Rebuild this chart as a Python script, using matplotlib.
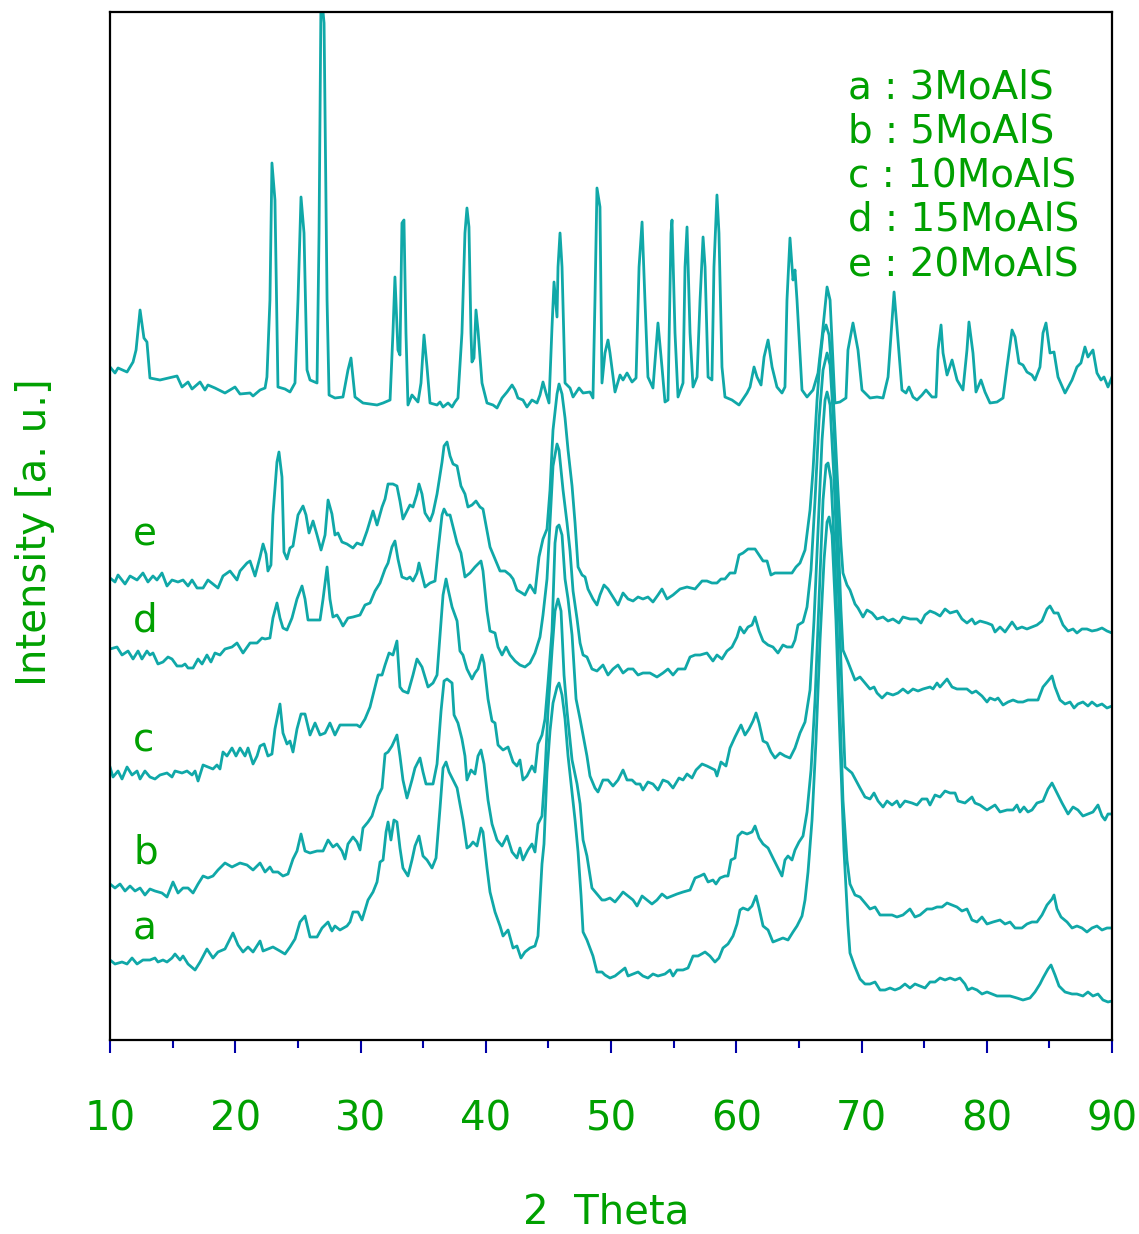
import matplotlib
matplotlib.use("Agg")
import matplotlib.pyplot as plt
from matplotlib.ticker import MultipleLocator

# XRD patterns, 2-theta (deg) vs intensity (a.u., stacked)
ref_tt = [10.00, 10.40, 10.64, 11.36, 11.84, 12.08, 12.40, 12.71, 12.95, 13.19,
          13.99, 15.35, 15.75, 16.23, 16.55, 17.19, 17.58, 17.82, 18.38, 19.18,
          19.98, 20.38, 21.18, 21.42, 21.98, 22.38, 22.53, 22.77, 22.93, 23.17,
          23.41, 23.97, 24.37, 24.77, 25.01, 25.25, 25.49, 25.73, 25.97, 26.53,
          26.69, 26.85, 27.09, 27.33, 27.49, 27.96, 28.60, 29.00, 29.24, 29.56,
          30.20, 31.32, 31.80, 32.36, 32.59, 32.75, 32.99, 33.15, 33.31, 33.47,
          33.63, 33.79, 34.11, 34.59, 34.83, 35.07, 35.31, 35.55, 36.11, 36.35,
          36.59, 36.99, 37.31, 37.54, 37.78, 38.10, 38.34, 38.50, 38.66, 38.82,
          38.90, 39.06, 39.22, 39.38, 39.70, 40.10, 40.58, 40.90, 41.30, 41.70,
          42.10, 42.34, 42.57, 42.97, 43.29, 43.69, 44.09, 44.33, 44.57, 44.81,
          45.05, 45.29, 45.45, 45.69, 45.77, 45.93, 46.09, 46.33, 46.73, 46.97,
          47.45, 47.77, 48.32, 48.56, 48.72, 48.88, 49.12, 49.28, 49.52, 49.76,
          49.92, 50.32, 50.72, 50.96, 51.28, 51.68, 52.00, 52.24, 52.48, 52.71,
          52.95, 53.35, 53.75, 54.07, 54.31, 54.55, 54.79, 54.87, 55.11, 55.35,
          55.75, 55.91, 56.07, 56.31, 56.55, 56.87, 57.11, 57.35, 57.51, 57.75,
          58.06, 58.22, 58.46, 58.62, 58.86, 59.10, 59.66, 60.22, 60.86, 61.10,
          61.42, 61.66, 61.98, 62.22, 62.54, 62.86, 63.25, 63.65, 63.89, 64.05,
          64.29, 64.53, 64.69, 64.85, 65.25, 65.65, 66.13, 66.53, 66.85, 67.25,
          67.49, 67.88, 68.28, 68.76, 68.92, 69.32, 69.72, 70.04, 70.68, 71.24,
          71.72, 72.12, 72.44, 72.60, 72.83, 73.23, 73.55, 73.79, 74.11, 74.43,
          74.83, 75.15, 75.63, 75.95, 76.11, 76.35, 76.51, 76.83, 77.23, 77.63,
          78.10, 78.42, 78.58, 78.90, 79.14, 79.54, 79.86, 80.26, 80.82, 81.30,
          81.62, 82.02, 82.26, 82.57, 82.89, 83.21, 83.61, 83.85, 84.25, 84.49,
          84.73, 85.05, 85.37, 85.69, 86.25, 86.81, 87.20, 87.52, 87.84, 88.08,
          88.48, 88.80, 89.12, 89.36, 89.68, 90.00]
ref_int = [673, 667, 672, 668, 678, 690, 730, 702, 698, 662,
           660, 664, 653, 658, 651, 658, 650, 655, 652, 647,
           653, 646, 647, 644, 650, 652, 663, 740, 877, 840,
           653, 651, 648, 657, 740, 843, 807, 670, 660, 657,
           807, 1050, 1017, 740, 645, 642, 643, 670, 682, 643,
           637, 635, 637, 640, 707, 763, 690, 685, 817, 820,
           707, 635, 645, 638, 657, 705, 673, 637, 635, 638,
           633, 637, 633, 638, 642, 707, 807, 832, 813, 707,
           678, 682, 730, 710, 657, 637, 635, 632, 642, 648,
           655, 650, 642, 640, 633, 640, 637, 645, 658, 647,
           637, 713, 758, 723, 773, 807, 773, 657, 652, 643,
           652, 647, 648, 642, 740, 852, 833, 657, 687, 700,
           687, 648, 665, 660, 667, 658, 662, 773, 818, 740,
           663, 652, 717, 673, 638, 640, 807, 820, 707, 643,
           657, 773, 813, 707, 653, 663, 740, 803, 773, 663,
           660, 773, 845, 807, 673, 643, 640, 635, 647, 653,
           673, 663, 655, 683, 700, 673, 653, 647, 653, 740,
           802, 760, 770, 740, 650, 643, 650, 667, 703, 753,
           740, 637, 638, 642, 690, 717, 690, 650, 642, 643,
           642, 663, 720, 748, 713, 650, 647, 653, 643, 640,
           645, 650, 643, 643, 690, 715, 687, 665, 680, 660,
           650, 690, 718, 687, 648, 660, 648, 637, 638, 642,
           673, 710, 703, 677, 675, 668, 665, 660, 673, 707,
           717, 687, 688, 663, 647, 660, 673, 677, 693, 683,
           690, 667, 660, 663, 653, 663]

e_tt = [10.00, 10.40, 10.64, 11.20, 11.60, 12.16, 12.63, 13.03, 13.43, 13.75,
        14.15, 14.55, 14.95, 15.43, 15.83, 16.23, 16.55, 16.95, 17.43, 17.82,
        18.22, 18.62, 19.02, 19.58, 20.14, 20.38, 20.94, 21.18, 21.58, 21.98,
        22.22, 22.46, 22.61, 22.85, 23.01, 23.33, 23.49, 23.73, 23.89, 24.13,
        24.37, 24.61, 25.01, 25.41, 25.65, 25.89, 26.21, 26.53, 26.85, 27.17,
        27.41, 27.72, 27.96, 28.20, 28.52, 28.92, 29.40, 29.72, 30.12, 30.52,
        31.00, 31.32, 31.72, 31.96, 32.20, 32.59, 32.91, 33.15, 33.39, 33.71,
        33.95, 34.19, 34.51, 34.67, 34.91, 35.15, 35.55, 35.79, 36.11, 36.51,
        36.67, 36.91, 37.15, 37.39, 37.71, 38.02, 38.34, 38.58, 38.90, 39.22,
        39.54, 39.78, 40.10, 40.34, 40.74, 41.14, 41.54, 41.94, 42.18, 42.49,
        42.89, 43.13, 43.53, 43.93, 44.25, 44.57, 44.89, 45.13, 45.37, 45.69,
        45.85, 46.09, 46.33, 46.57, 46.89, 47.13, 47.37, 47.69, 47.93, 48.16,
        48.56, 48.88, 49.12, 49.44, 49.76, 50.16, 50.56, 50.96, 51.36, 51.76,
        52.16, 52.55, 52.95, 53.35, 53.75, 54.07, 54.47, 54.95, 55.51, 56.07,
        56.71, 57.27, 57.66, 58.06, 58.46, 58.78, 59.10, 59.50, 59.90, 60.22,
        60.54, 60.94, 61.50, 61.82, 62.14, 62.46, 62.77, 63.09, 63.65, 64.05,
        64.45, 64.77, 65.09, 65.49, 65.89, 66.13, 66.45, 66.69, 66.93, 67.17,
        67.41, 67.65, 67.88, 68.12, 68.36, 68.52, 68.84, 69.08, 69.48, 69.72,
        70.12, 70.44, 70.84, 71.24, 71.72, 72.12, 72.51, 72.99, 73.31, 73.87,
        74.43, 74.75, 75.07, 75.47, 75.87, 76.27, 76.67, 77.07, 77.62, 78.02,
        78.42, 78.82, 79.06, 79.46, 80.02, 80.42, 80.66, 81.06, 81.46, 82.02,
        82.41, 82.81, 83.21, 83.61, 84.01, 84.41, 84.81, 85.05, 85.37, 85.69,
        86.09, 86.49, 86.89, 87.20, 87.60, 88.00, 88.40, 88.80, 89.20, 89.60,
        90.00]
e_int = [462, 458, 465, 456, 464, 460, 467, 458, 464, 460,
         467, 454, 460, 458, 460, 454, 460, 452, 452, 460,
         456, 452, 464, 469, 460, 469, 477, 479, 464, 483,
         496, 486, 469, 475, 525, 578, 588, 563, 488, 481,
         492, 494, 525, 534, 525, 507, 519, 505, 490, 505,
         540, 526, 505, 507, 498, 496, 492, 497, 495, 509,
         529, 515, 533, 541, 556, 556, 554, 539, 521, 529,
         535, 533, 546, 556, 546, 527, 519, 527, 546, 578,
         594, 598, 584, 576, 574, 554, 546, 533, 535, 539,
         533, 531, 509, 493, 481, 469, 469, 465, 461, 450,
         447, 445, 455, 447, 483, 501, 511, 550, 610, 646,
         656, 646, 622, 590, 554, 517, 473, 465, 463, 451,
         441, 435, 445, 455, 451, 443, 435, 447, 441, 439,
         443, 441, 443, 438, 445, 451, 441, 445, 451, 453,
         451, 459, 459, 457, 457, 461, 461, 467, 467, 485,
         487, 491, 491, 485, 479, 479, 465, 467, 467, 467,
         467, 473, 477, 490, 530, 570, 640, 680, 707, 715,
         705, 665, 610, 550, 495, 467, 455, 450, 436, 432,
         423, 430, 427, 421, 423, 419, 421, 417, 423, 421,
         421, 417, 425, 429, 427, 424, 431, 427, 429, 421,
         417, 421, 416, 419, 417, 415, 408, 413, 408, 418,
         411, 413, 411, 413, 415, 419, 431, 434, 427, 427,
         415, 409, 411, 407, 411, 411, 409, 410, 412, 409,
         407]

d_tt = [10.00, 10.56, 10.96, 11.44, 11.84, 12.24, 12.55, 12.95, 13.19, 13.43,
        13.83, 14.23, 14.63, 14.95, 15.35, 15.75, 15.99, 16.23, 16.63, 17.03,
        17.35, 17.74, 18.06, 18.38, 18.78, 19.18, 19.74, 20.14, 20.62, 21.18,
        21.74, 22.14, 22.38, 22.77, 23.01, 23.33, 23.57, 23.81, 24.13, 24.53,
        24.93, 25.33, 25.57, 25.81, 26.21, 26.77, 27.01, 27.33, 27.56, 27.80,
        28.12, 28.36, 28.60, 29.00, 29.40, 29.96, 30.36, 30.76, 31.16, 31.56,
        31.96, 32.20, 32.51, 32.75, 32.99, 33.31, 33.71, 33.95, 34.19, 34.51,
        34.67, 34.91, 35.15, 35.55, 35.95, 36.19, 36.51, 36.67, 36.91, 37.15,
        37.39, 37.71, 38.02, 38.34, 38.74, 39.14, 39.62, 39.78, 40.10, 40.34,
        40.74, 40.98, 41.30, 41.62, 41.94, 42.34, 42.73, 43.13, 43.53, 43.93,
        44.33, 44.57, 44.89, 45.13, 45.37, 45.69, 45.85, 46.17, 46.49, 46.73,
        46.97, 47.29, 47.53, 47.77, 48.08, 48.48, 48.88, 49.36, 49.76, 50.16,
        50.56, 50.96, 51.36, 51.76, 52.16, 52.55, 53.11, 53.67, 54.15, 54.55,
        54.95, 55.35, 55.91, 56.31, 56.71, 57.11, 57.66, 58.14, 58.46, 58.86,
        59.26, 59.66, 60.06, 60.30, 60.62, 60.94, 61.26, 61.50, 61.82, 62.14,
        62.54, 62.93, 63.33, 63.73, 64.05, 64.45, 64.69, 64.93, 65.33, 65.65,
        65.97, 66.29, 66.61, 66.93, 67.25, 67.49, 67.81, 68.12, 68.36, 68.52,
        68.92, 69.48, 69.88, 70.28, 70.68, 71.00, 71.24, 71.64, 72.04, 72.51,
        72.91, 73.31, 73.71, 74.11, 74.51, 74.91, 75.47, 75.71, 76.03, 76.27,
        76.83, 77.23, 77.62, 78.02, 78.42, 78.82, 79.14, 79.62, 80.02, 80.26,
        80.66, 80.90, 81.30, 81.70, 82.10, 82.49, 82.89, 83.29, 83.69, 84.09,
        84.49, 84.89, 85.21, 85.45, 85.85, 86.25, 86.65, 86.97, 87.28, 87.68,
        88.08, 88.40, 88.80, 89.20, 89.60, 90.00]
d_int = [391, 393, 385, 389, 381, 389, 381, 389, 385, 387,
         376, 378, 383, 381, 374, 374, 376, 372, 372, 381,
         376, 385, 378, 387, 385, 391, 393, 397, 387, 397,
         397, 402, 401, 402, 422, 437, 422, 412, 410, 422,
         441, 454, 441, 420, 420, 420, 441, 473, 441, 423,
         425, 420, 414, 422, 423, 425, 435, 437, 449, 457,
         471, 477, 493, 499, 481, 463, 461, 463, 459, 467,
         477, 465, 453, 457, 459, 489, 525, 531, 525, 525,
         513, 497, 487, 463, 467, 473, 479, 469, 429, 409,
         407, 393, 385, 393, 385, 379, 375, 373, 377, 387,
         403, 425, 461, 517, 574, 596, 590, 550, 517, 489,
         449, 421, 397, 385, 383, 371, 369, 375, 365, 371,
         375, 367, 371, 371, 365, 367, 367, 363, 367, 371,
         365, 371, 371, 383, 385, 385, 387, 379, 385, 381,
         389, 393, 403, 413, 407, 413, 415, 423, 409, 399,
         395, 393, 387, 395, 393, 393, 400, 415, 418, 433,
         470, 540, 620, 670, 687, 675, 610, 510, 430, 390,
         378, 360, 363, 357, 351, 353, 347, 342, 347, 345,
         347, 351, 347, 351, 349, 351, 353, 351, 357, 353,
         361, 353, 351, 351, 351, 347, 349, 344, 338, 342,
         340, 342, 335, 338, 340, 338, 338, 340, 340, 340,
         353, 359, 364, 353, 340, 336, 338, 332, 336, 338,
         334, 338, 334, 336, 332, 334]

c_tt = [10.00, 10.24, 10.64, 10.96, 11.36, 11.76, 12.16, 12.40, 12.79, 13.19,
        13.59, 13.99, 14.55, 14.95, 15.19, 15.75, 16.15, 16.55, 16.79, 17.03,
        17.43, 17.82, 18.22, 18.54, 18.78, 19.02, 19.34, 19.74, 20.06, 20.38,
        20.78, 21.02, 21.42, 21.74, 21.98, 22.30, 22.61, 22.93, 23.17, 23.57,
        23.81, 24.13, 24.37, 24.61, 24.93, 25.25, 25.57, 25.97, 26.37, 26.77,
        27.17, 27.56, 27.96, 28.36, 28.92, 29.40, 29.72, 29.96, 30.36, 30.76,
        31.16, 31.40, 31.72, 31.96, 32.28, 32.59, 32.91, 33.15, 33.39, 33.79,
        34.19, 34.51, 34.91, 35.15, 35.39, 35.79, 36.11, 36.35, 36.59, 36.83,
        36.99, 37.31, 37.71, 37.94, 38.18, 38.50, 38.90, 39.14, 39.38, 39.70,
        39.86, 40.18, 40.50, 40.74, 40.98, 41.38, 41.78, 42.18, 42.49, 42.73,
        42.97, 43.29, 43.69, 43.93, 44.17, 44.49, 44.73, 44.97, 45.29, 45.53,
        45.69, 45.85, 46.09, 46.33, 46.57, 46.89, 47.21, 47.53, 47.77, 48.08,
        48.32, 48.72, 48.96, 49.36, 49.76, 50.16, 50.56, 50.96, 51.28, 51.68,
        52.00, 52.32, 52.55, 52.95, 53.35, 53.75, 54.15, 54.55, 54.95, 55.43,
        55.75, 56.07, 56.47, 56.79, 57.27, 57.66, 57.98, 58.30, 58.46, 58.78,
        59.18, 59.50, 59.90, 60.38, 60.70, 61.02, 61.34, 61.58, 61.82, 62.14,
        62.46, 62.77, 63.09, 63.49, 63.89, 64.29, 64.69, 65.09, 65.49, 65.89,
        66.21, 66.53, 66.85, 67.09, 67.25, 67.49, 67.81, 68.12, 68.44, 68.68,
        69.24, 69.88, 70.28, 70.68, 71.00, 71.32, 71.72, 72.04, 72.44, 72.83,
        73.07, 73.47, 74.03, 74.43, 74.83, 75.23, 75.47, 75.87, 76.27, 76.67,
        77.07, 77.47, 77.71, 78.26, 78.82, 79.06, 79.46, 80.02, 80.66, 81.06,
        81.62, 82.10, 82.41, 82.65, 82.97, 83.29, 83.61, 84.01, 84.49, 84.89,
        85.21, 85.53, 86.01, 86.49, 86.89, 87.28, 87.68, 88.08, 88.48, 88.88,
        89.20, 89.44, 89.68, 90.00]
c_int = [273, 263, 269, 261, 273, 265, 269, 261, 269, 263,
         261, 265, 267, 263, 269, 267, 269, 265, 269, 259,
         275, 273, 271, 275, 271, 288, 284, 292, 284, 292,
         284, 292, 276, 284, 294, 296, 284, 286, 311, 336,
         307, 296, 299, 288, 311, 326, 326, 305, 317, 305,
         307, 317, 305, 315, 315, 315, 315, 313, 321, 333,
         353, 365, 365, 375, 387, 385, 399, 353, 349, 347,
         365, 381, 373, 363, 353, 357, 365, 405, 445, 461,
         451, 433, 419, 389, 385, 371, 361, 367, 371, 385,
         377, 341, 319, 317, 295, 290, 293, 278, 274, 280,
         260, 264, 274, 268, 296, 305, 321, 357, 409, 497,
         513, 515, 505, 461, 441, 405, 341, 321, 305, 284,
         264, 252, 248, 260, 260, 254, 260, 270, 260, 260,
         256, 256, 250, 258, 256, 250, 260, 258, 252, 262,
         260, 266, 262, 270, 276, 274, 272, 270, 264, 278,
         274, 292, 303, 315, 305, 311, 319, 327, 317, 299,
         297, 288, 282, 287, 284, 282, 292, 307, 318, 350,
         420, 510, 600, 640, 648, 635, 560, 460, 350, 273,
         267, 252, 243, 241, 247, 239, 233, 239, 235, 239,
         233, 239, 237, 235, 241, 241, 235, 245, 243, 249,
         247, 247, 239, 237, 243, 237, 235, 230, 235, 228,
         230, 230, 235, 228, 233, 228, 230, 237, 239, 251,
         257, 249, 237, 226, 233, 230, 224, 226, 228, 235,
         224, 220, 226, 226]

b_tt = [10.00, 10.40, 10.80, 11.20, 11.60, 12.00, 12.40, 12.79, 13.19, 13.59,
        14.15, 14.55, 15.03, 15.43, 15.83, 16.23, 16.63, 17.03, 17.43, 17.82,
        18.22, 18.62, 19.18, 19.74, 20.38, 20.94, 21.42, 21.98, 22.38, 22.77,
        23.01, 23.41, 23.81, 24.21, 24.61, 24.93, 25.25, 25.57, 25.97, 26.53,
        27.01, 27.41, 27.80, 28.12, 28.52, 28.76, 29.00, 29.40, 29.72, 29.96,
        30.20, 30.60, 30.92, 31.16, 31.40, 31.72, 31.96, 32.20, 32.51, 32.91,
        33.15, 33.39, 33.71, 34.11, 34.35, 34.75, 34.99, 35.23, 35.79, 36.11,
        36.43, 36.67, 36.91, 37.31, 37.47, 37.78, 38.10, 38.34, 38.50, 38.82,
        39.14, 39.38, 39.62, 39.86, 40.18, 40.50, 40.90, 41.30, 41.70, 42.10,
        42.49, 42.73, 42.97, 43.37, 43.69, 43.93, 44.17, 44.49, 44.73, 44.97,
        45.29, 45.53, 45.77, 46.01, 46.25, 46.49, 46.89, 47.29, 47.53, 47.77,
        48.08, 48.48, 48.88, 49.28, 49.52, 49.92, 50.32, 50.72, 50.96, 51.36,
        51.76, 52.08, 52.48, 52.87, 53.27, 53.67, 54.07, 54.47, 54.87, 55.27,
        55.75, 56.31, 56.71, 57.11, 57.43, 57.75, 58.14, 58.38, 58.70, 59.10,
        59.34, 59.58, 59.90, 60.14, 60.46, 60.86, 61.26, 61.50, 61.82, 62.14,
        62.54, 62.93, 63.33, 63.65, 63.89, 64.13, 64.45, 64.69, 65.01, 65.33,
        65.65, 65.97, 66.29, 66.61, 66.93, 67.17, 67.33, 67.57, 67.88, 68.20,
        68.52, 68.84, 69.08, 69.48, 69.88, 70.28, 70.68, 71.08, 71.48, 72.04,
        72.44, 72.83, 73.31, 73.87, 74.27, 74.67, 75.23, 75.63, 76.03, 76.43,
        76.83, 77.23, 77.62, 78.02, 78.42, 78.82, 79.22, 79.62, 80.02, 80.50,
        81.06, 81.46, 81.86, 82.26, 82.81, 83.21, 83.61, 84.01, 84.41, 84.81,
        85.21, 85.37, 85.61, 85.93, 86.41, 86.81, 87.20, 87.60, 88.00, 88.40,
        88.80, 89.20, 89.60, 90.00]
b_int = [156, 152, 156, 149, 154, 149, 152, 145, 151, 149,
         147, 143, 158, 147, 152, 152, 147, 156, 164, 162,
         164, 170, 177, 173, 177, 175, 170, 177, 168, 173,
         168, 168, 164, 166, 181, 189, 206, 189, 187, 189,
         189, 200, 193, 196, 189, 181, 196, 203, 198, 190,
         212, 218, 224, 234, 244, 252, 286, 288, 294, 305,
         284, 260, 242, 260, 272, 282, 268, 256, 256, 276,
         329, 359, 361, 357, 325, 317, 301, 284, 260, 270,
         266, 284, 290, 276, 240, 216, 200, 194, 204, 188,
         182, 192, 180, 190, 196, 188, 216, 224, 268, 329,
         389, 429, 441, 429, 365, 329, 280, 256, 236, 200,
         184, 152, 146, 140, 140, 142, 138, 144, 148, 144,
         140, 134, 144, 140, 136, 140, 146, 142, 144, 146,
         148, 150, 162, 164, 166, 158, 160, 156, 162, 164,
         164, 180, 182, 204, 208, 206, 208, 214, 202, 196,
         192, 182, 172, 164, 180, 184, 180, 190, 198, 204,
         228, 270, 340, 440, 540, 575, 577, 560, 480, 360,
         240, 180, 156, 145, 143, 137, 131, 133, 125, 125,
         125, 123, 125, 131, 123, 125, 131, 131, 133, 133,
         137, 135, 133, 129, 131, 120, 118, 123, 116, 118,
         120, 116, 118, 112, 112, 116, 118, 118, 125, 135,
         141, 145, 131, 123, 118, 112, 114, 112, 108, 112,
         114, 110, 112, 112]

a_tt = [10.00, 10.40, 10.96, 11.36, 11.76, 12.16, 12.63, 13.19, 13.59, 13.83,
        14.23, 14.55, 14.95, 15.19, 15.59, 15.83, 16.23, 16.79, 17.19, 17.74,
        18.22, 18.62, 19.18, 19.82, 20.22, 20.62, 21.02, 21.42, 21.98, 22.22,
        22.61, 23.01, 23.57, 23.97, 24.37, 24.77, 25.17, 25.57, 25.97, 26.53,
        26.93, 27.41, 27.72, 27.96, 28.36, 28.92, 29.16, 29.40, 29.80, 30.12,
        30.36, 30.60, 31.00, 31.32, 31.56, 31.80, 32.04, 32.20, 32.43, 32.67,
        32.91, 33.15, 33.39, 33.79, 34.11, 34.35, 34.67, 34.99, 35.31, 35.71,
        36.03, 36.35, 36.59, 36.83, 37.07, 37.39, 37.71, 37.94, 38.18, 38.50,
        38.74, 38.98, 39.30, 39.62, 39.78, 40.10, 40.34, 40.74, 41.14, 41.38,
        41.78, 42.18, 42.49, 42.81, 43.13, 43.53, 43.93, 44.17, 44.49, 44.65,
        44.89, 45.13, 45.37, 45.69, 45.85, 46.09, 46.33, 46.57, 46.89, 47.13,
        47.37, 47.61, 47.77, 48.08, 48.32, 48.56, 48.88, 49.28, 49.52, 49.92,
        50.32, 50.72, 51.12, 51.36, 51.76, 52.16, 52.55, 52.95, 53.35, 53.75,
        54.31, 54.71, 54.95, 55.27, 55.75, 56.15, 56.55, 56.95, 57.51, 57.90,
        58.30, 58.62, 58.94, 59.34, 59.74, 60.06, 60.30, 60.54, 60.94, 61.26,
        61.58, 61.82, 62.14, 62.54, 62.93, 63.33, 63.73, 64.13, 64.53, 64.85,
        65.25, 65.49, 65.73, 66.05, 66.37, 66.69, 67.01, 67.25, 67.41, 67.65,
        67.96, 68.28, 68.60, 68.92, 69.08, 69.48, 69.88, 70.28, 70.68, 71.08,
        71.48, 71.88, 72.28, 72.67, 73.07, 73.47, 73.87, 74.27, 74.67, 75.07,
        75.47, 75.87, 76.27, 76.67, 77.07, 77.47, 77.86, 78.26, 78.50, 78.82,
        79.22, 79.62, 80.02, 80.42, 80.82, 81.30, 81.86, 82.41, 82.89, 83.45,
        83.85, 84.25, 84.49, 84.89, 85.13, 85.45, 85.77, 86.25, 86.81, 87.20,
        87.68, 88.08, 88.48, 88.88, 89.28, 89.68, 90.00]
a_int = [80, 76, 78, 76, 82, 76, 80, 80, 82, 78,
         80, 78, 82, 86, 80, 84, 76, 70, 78, 91,
         82, 88, 91, 107, 95, 88, 93, 88, 99, 89,
         91, 93, 89, 86, 93, 101, 118, 124, 103, 103,
         112, 118, 109, 114, 110, 114, 118, 128, 128, 120,
         130, 140, 148, 158, 178, 180, 208, 218, 200, 220,
         218, 192, 172, 164, 180, 194, 204, 184, 180, 172,
         182, 232, 272, 278, 268, 260, 252, 236, 220, 192,
         194, 198, 194, 212, 208, 172, 148, 128, 114, 104,
         110, 92, 94, 82, 88, 92, 94, 104, 176, 196,
         268, 309, 337, 353, 357, 345, 321, 284, 248, 220,
         188, 144, 108, 100, 92, 84, 68, 68, 65, 62,
         64, 68, 72, 64, 66, 68, 64, 62, 66, 64,
         66, 70, 64, 70, 70, 72, 84, 84, 88, 84,
         78, 82, 92, 96, 104, 116, 130, 132, 130, 134,
         144, 132, 114, 110, 98, 100, 102, 100, 108, 114,
         124, 140, 168, 220, 300, 400, 480, 518, 523, 505,
         420, 300, 190, 115, 87, 73, 61, 56, 56, 58,
         50, 50, 52, 50, 52, 56, 52, 56, 54, 52,
         58, 58, 62, 60, 62, 60, 62, 56, 50, 52,
         50, 46, 48, 46, 44, 44, 44, 42, 40, 42,
         48, 56, 62, 71, 75, 65, 54, 48, 46, 46,
         44, 48, 44, 46, 40, 38, 39]

curve_tags = ["a", "b", "c", "d", "e"]
sample_names = ["3MoAlS", "5MoAlS", "10MoAlS", "15MoAlS", "20MoAlS"]
tag_heights = [100, 177, 288, 408, 494]   # baseline of each curve letter

LINE = "#10a8a8"
GREEN = "#00a000"
TICK = "#0000a8"

plt.rcParams["font.family"] = ["DejaVu Sans"]

fig = plt.figure(figsize=(11.39, 12.34), dpi=100)
ax = fig.add_axes([110 / 1139, 194 / 1234, 1002 / 1139, 1028 / 1234])

for tt, inten in [(ref_tt, ref_int), (e_tt, e_int), (d_tt, d_int),
                  (c_tt, c_int), (b_tt, b_int), (a_tt, a_int)]:
    assert len(tt) == len(inten)
    ax.plot(tt, inten, color=LINE, lw=2.0, solid_joinstyle="round")

ax.set_xlim(10, 90)
ax.set_ylim(0, 1028)
ax.set_yticks([])
ax.xaxis.set_major_locator(MultipleLocator(10))
ax.xaxis.set_minor_locator(MultipleLocator(5))
ax.tick_params(axis="x", which="major", direction="out", length=9.5, width=1.5,
               color=TICK, labelcolor=GREEN, labelsize=29, pad=33)
ax.tick_params(axis="x", which="minor", direction="out", length=5.5, width=1.5,
               color=TICK)
for sp in ax.spines.values():
    sp.set_linewidth(1.6)
    sp.set_color("black")

# letters next to each pattern
for tag, h in zip(curve_tags, tag_heights):
    ax.text(11.84, h, tag, color=GREEN, fontsize=28, ha="left", va="baseline")

# sample key, top right
for i, (tag, name) in enumerate(zip(curve_tags, sample_names)):
    ax.text(0.7365, 0.9163 - i * 0.0431, f"{tag} : {name}", transform=ax.transAxes,
            color=GREEN, fontsize=28, ha="left", va="baseline")

fig.text(606 / 1139, 1 - 1212 / 1234, "2  Theta", color=GREEN, fontsize=29,
         ha="center", va="center")
fig.text(35 / 1139, 1 - 532 / 1234, "Intensity [a. u.]", color=GREEN, fontsize=29,
         ha="center", va="center", rotation=90)

fig.savefig("out.png", dpi=100)
